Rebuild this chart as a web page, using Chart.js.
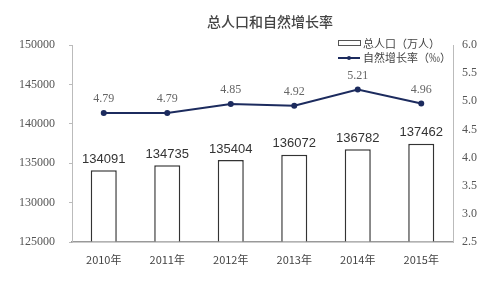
<!DOCTYPE html>
<html><head><meta charset="utf-8">
<script src="https://cdn.jsdelivr.net/npm/chart.js@4.4.0/dist/chart.umd.min.js"></script>
<style>html,body{margin:0;padding:0;background:#fff}#wrap{width:500px;height:285px}</style>
</head><body><div id="wrap"><canvas id="c" width="500" height="285"></canvas></div>
<script>
const categories = ["2010年","2011年","2012年","2013年","2014年","2015年"];
const population = [134091,134735,135404,136072,136782,137462];
const growthRate = [4.79,4.79,4.95,4.92,5.21,4.96];
const growthLabels = ["4.79","4.79","4.85","4.92","5.21","4.96"];
const titleText = "总人口和自然增长率";
const legendPop = "总人口（万人）";
const legendRate = "自然增长率（‰）";

const FONT = "'Noto Sans CJK SC', 'DejaVu Sans', sans-serif";

const labelsPlugin = {
  id: 'labels',
  afterDatasetsDraw(chart) {
    const ctx = chart.ctx;
    ctx.save();
    const bm = chart.getDatasetMeta(0);
    ctx.font = "13px 'Liberation Sans', Arial, sans-serif";
    ctx.fillStyle = '#333';
    ctx.textAlign = 'center';
    ctx.textBaseline = 'middle';
    bm.data.forEach((el, i) => {
      ctx.fillText(String(population[i]), el.x, el.y - 11);
    });
    const lm = chart.getDatasetMeta(1);
    ctx.font = "12px 'Liberation Serif', serif";
    ctx.fillStyle = '#666';
    lm.data.forEach((el, i) => {
      ctx.fillText(growthLabels[i], el.x, el.y - 14);
    });
    ctx.font = "500 14px " + FONT;
    ctx.fillStyle = '#444';
    ctx.fillText(titleText, 270, 22);
    ctx.strokeStyle = '#555';
    ctx.lineWidth = 1;
    ctx.strokeRect(338.5, 40.5, 22, 5);
    ctx.strokeStyle = '#1c2b5e';
    ctx.lineWidth = 2;
    ctx.beginPath(); ctx.moveTo(338, 58); ctx.lineTo(360, 58); ctx.stroke();
    ctx.fillStyle = '#1c2b5e';
    ctx.beginPath(); ctx.arc(349, 58, 2, 0, Math.PI*2); ctx.fill();
    ctx.font = "11px " + FONT;
    ctx.fillStyle = '#444';
    ctx.textAlign = 'left';
    ctx.fillText(legendPop, 363, 44);
    ctx.fillText(legendRate, 363, 58);
    ctx.restore();
  }
};

new Chart(document.getElementById('c'), {
  data: {
    labels: categories,
    datasets: [
      { type: 'bar', data: population, yAxisID: 'yL', backgroundColor: '#fff',
        borderColor: '#333', borderWidth: 1.5, barPercentage: 0.41, categoryPercentage: 1, order: 2,
        base: 125000 },
      { type: 'line', data: growthRate, yAxisID: 'yR', borderColor: '#1c2b5e', backgroundColor: '#1c2b5e',
        borderWidth: 2, pointRadius: 2, pointHoverRadius: 2, tension: 0, order: 1 }
    ]
  },
  options: {
    responsive: false, animation: false,
    layout: { padding: { top: 45, left: 0, right: 0, bottom: 0 } },
    plugins: { legend: { display: false }, title: { display: false }, tooltip: { enabled: false } },
    scales: {
      x: {
        grid: { display: false, drawTicks: false },
        border: { color: '#999', width: 1.5 },
        ticks: { font: { family: FONT, size: 11 }, color: '#444', padding: 11, maxRotation: 0 },
        afterFit(s) { s.height = 43; }
      },
      yL: {
        position: 'left', min: 125000, max: 150000,
        grid: { drawOnChartArea: false, tickLength: 3, color: '#bbb' },
        border: { color: '#bbb', width: 1 },
        ticks: { stepSize: 5000, font: { family: "'Liberation Serif', serif", size: 12 }, color: '#555', padding: 14,
          callback: v => String(v) },
        afterFit(s) { s.width = 72; }
      },
      yR: {
        position: 'right', min: 2.5, max: 6,
        grid: { drawOnChartArea: false, drawTicks: false },
        border: { color: '#bbb', width: 1 },
        ticks: { stepSize: 0.5, font: { family: "'Liberation Serif', serif", size: 12 }, color: '#555', padding: 9,
          callback: v => v.toFixed(1) },
        afterFit(s) { s.width = 47; }
      }
    }
  },
  plugins: [labelsPlugin]
});
</script>
</body></html>
